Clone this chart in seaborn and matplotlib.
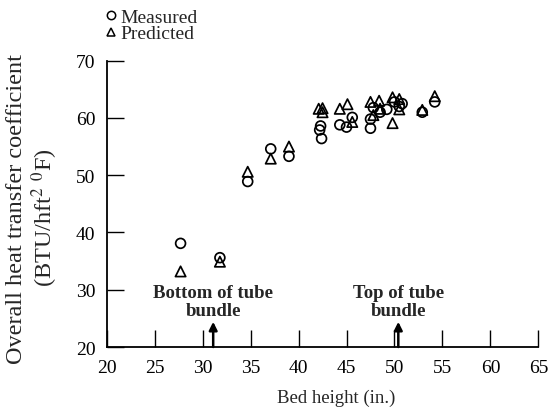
import matplotlib
matplotlib.use("Agg")
import matplotlib.pyplot as plt
from matplotlib.lines import Line2D
import seaborn as sns
import pandas as pd

# Bed height (in.) and overall heat transfer coefficient (BTU/hft^2 0F)
measured_x = [27.7, 31.8, 34.7, 37.1, 39.0, 42.3, 42.2, 42.4, 44.3, 45.0, 45.6,
              47.5, 47.5, 47.8, 48.5, 49.2, 50.0, 50.5, 50.8, 52.9, 54.2]
measured_y = [38.1, 35.6, 48.9, 54.6, 53.3, 58.6, 57.9, 56.4, 58.8, 58.4, 60.1,
              59.8, 58.2, 61.8, 61.0, 61.5, 62.8, 62.0, 62.5, 61.0, 62.8]

predicted_x = [27.7, 31.8, 34.7, 37.1, 39.0, 42.1, 42.5, 42.5, 44.3, 45.1, 45.6,
               47.5, 48.4, 47.8, 48.5, 49.8, 50.5, 50.5, 49.8, 52.9, 54.2]
predicted_y = [33.2, 34.9, 50.6, 52.9, 55.0, 61.6, 61.7, 61.0, 61.6, 62.4, 59.3,
               62.8, 63.0, 60.5, 61.6, 63.6, 63.3, 61.5, 59.1, 61.4, 63.8]

x_ticks = [20, 25, 30, 35, 40, 45, 50, 55, 60, 65]
y_ticks = [20, 30, 40, 50, 60, 70]

bundle_bottom = 31.1
bundle_top = 50.4

sns.set_style("ticks")
plt.rcParams["font.family"] = ["Liberation Serif", "DejaVu Serif"]
plt.rcParams["mathtext.fontset"] = "stix"

measured = pd.DataFrame({"x": measured_x, "y": measured_y})
predicted = pd.DataFrame({"x": predicted_x, "y": predicted_y})

fig = plt.figure(figsize=(5.57, 4.14), dpi=100)
ax = fig.add_axes([0.1916, 0.1594, 0.7749, 0.6916])

sns.scatterplot(data=measured, x="x", y="y", marker="o", s=50,
                facecolors="none", edgecolor="black", linewidth=1.25, ax=ax, zorder=3)
sns.scatterplot(data=predicted, x="x", y="y", marker="^", s=55,
                facecolors="none", edgecolor="black", linewidth=1.25, ax=ax, zorder=3)

ax.set_xlim(20, 65)
ax.set_ylim(20, 70)
ax.set_xticks(x_ticks)
ax.set_yticks(y_ticks)
ax.tick_params(direction="in", length=12, width=1.0, labelsize=14, colors="black")
ax.tick_params(axis="x", pad=8.5)
ax.tick_params(axis="y", pad=8)
for side in ("top", "right"):
    ax.spines[side].set_visible(False)
for side in ("left", "bottom"):
    ax.spines[side].set_linewidth(1.3)
    ax.spines[side].set_color("black")

ax.set_xlabel("")
ax.set_ylabel("")
fig.text(0.603, 0.038, "Bed height (in.)", ha="center", va="center", fontsize=13.5)
fig.text(0.030, 0.495, "Overall heat transfer coefficient", rotation=90,
         ha="center", va="center", fontsize=17.5)
fig.text(0.080, 0.475, r"(BTU/hft$^2$ $^0$F)", rotation=90,
         ha="center", va="center", fontsize=17.5)

# Tube bundle markers
for xb, line1 in ((bundle_bottom, "Bottom of tube"), (bundle_top, "Top of tube")):
    ax.annotate("", xy=(xb, 24.4), xytext=(xb, 20),
                arrowprops=dict(arrowstyle="-|>", color="black", lw=1.8,
                                mutation_scale=12, shrinkA=0, shrinkB=0))
    ax.text(xb, 29.6, line1, ha="center", va="center", fontsize=13.5, fontweight="bold")
    ax.text(xb, 26.3, "bundle", ha="center", va="center", fontsize=13.5, fontweight="bold")

handles = [
    Line2D([], [], marker="o", ls="none", mfc="none", mec="black", ms=6, mew=1.1),
    Line2D([], [], marker="^", ls="none", mfc="none", mec="black", ms=6, mew=1.1),
]
fig.legend(handles, ["Measured", "Predicted"], loc="upper left",
           bbox_to_anchor=(106 / 557, 1 - 9 / 414), frameon=False, fontsize=14,
           handlelength=0.5, handletextpad=0.25, labelspacing=-0.04, borderpad=0,
           borderaxespad=0)

fig.savefig("out.png", dpi=100)
